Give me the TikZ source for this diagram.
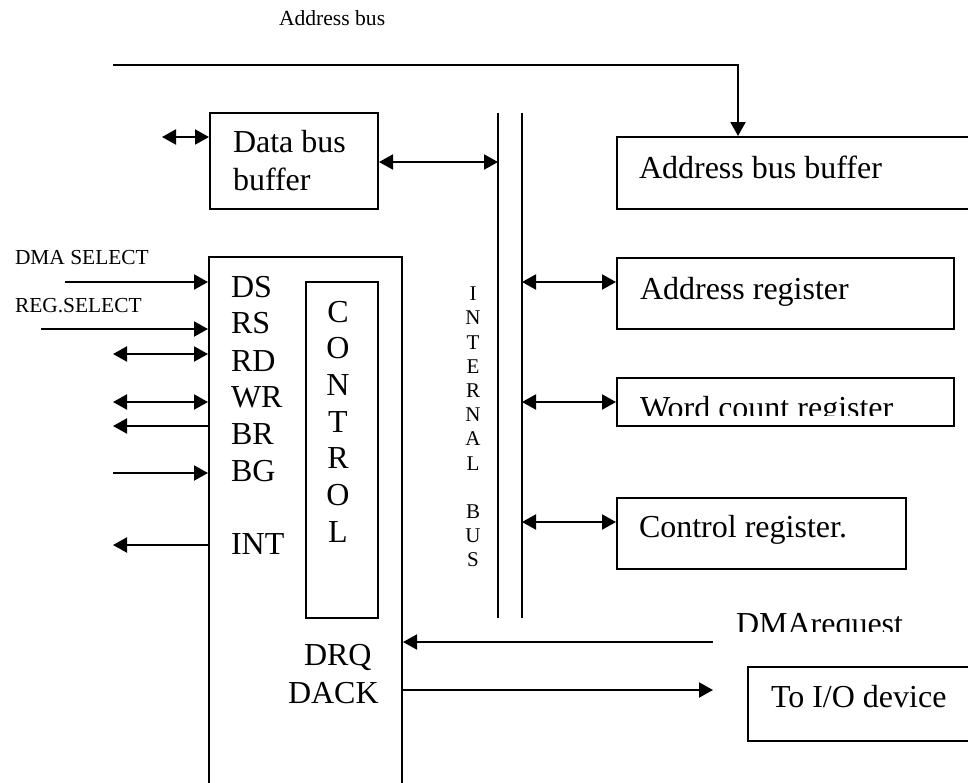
\documentclass[tikz,border=0pt]{standalone}
\usepackage{fontspec}
\setmainfont{Liberation Serif}
\usetikzlibrary{arrows.meta,fit}
\begin{document}
\begin{tikzpicture}[x=0.5pt,y=-0.5pt,line width=1pt,
  tipA/.tip={Triangle[length=7pt,width=7.5pt]},
  arr/.style={-tipA},
  dblarr/.style={tipA-tipA},
  boxed/.style={draw,inner sep=0pt,line width=1pt},
  big/.style={inner sep=0pt,anchor=base west,font=\fontsize{16}{19}\selectfont},
  bigr/.style={inner sep=0pt,anchor=base west,font=\fontsize{16}{19}\selectfont},
  small/.style={inner sep=0pt,anchor=base west,font=\fontsize{10.7}{13}\selectfont},
  letter/.style={inner sep=0pt,anchor=base,font=\fontsize{16}{19}\selectfont},
  sletter/.style={inner sep=0pt,anchor=base,font=\fontsize{10.5}{13}\selectfont}]
\useasboundingbox (0,0) rectangle (968,782);
\clip (0,0) rectangle (968,782);

% Address bus
\node[inner sep=0pt,anchor=base west,font=\fontsize{10.8}{13}\selectfont] (ablbl) at (278,25) {Address bus};
\node[boxed,fit={(617,137) (1010,209)}] (abb) {};
\node[bigr] (abbt) at (638,178) {Address bus buffer};
\coordinate (abstart) at (113,65);
\coordinate (abcorner) at (738,65);
\draw[arr] (abstart) -- (abcorner) -- (abcorner |- abb.north);

% Registers
\node[boxed,fit={(617,258) (954,329)}] (areg) {};
\node[bigr] (aregt) at (639,299) {Address register};
\node[boxed,fit={(617,378) (954,426)}] (wcr) {};
\begin{scope}
\clip (617,378) rectangle (954,415);
\node[bigr] (wcrt) at (639,418) {Word count register};
\end{scope}
\node[boxed,fit={(617,498) (906,569)}] (creg) {};
\node[bigr] (cregt) at (638,537) {Control register.};

% Internal bus
\coordinate (busL) at (498,113);
\coordinate (busLb) at (498,618);
\coordinate (busR) at (522,113);
\coordinate (busRb) at (522,618);
\draw (busL) -- (busLb);
\draw (busR) -- (busRb);
\foreach \ch [count=\i from 0] in {I,N,T,E,R,N,A,L,{},B,U,S}{
  \node[sletter] (ib\i) at (473,{300.7+24.2*\i}) {\ch};
}

\coordinate (ya) at (0,282);
\coordinate (yw) at (0,402);
\coordinate (yc) at (0,522);
\draw[dblarr] (busR |- ya) -- (areg.west |- ya);
\draw[dblarr] (busR |- yw) -- (wcr.west |- yw);
\draw[dblarr] (busR |- yc) -- (creg.west |- yc);

% Data bus buffer
\node[boxed,fit={(210,113) (378,209)}] (dbb) {};
\node[big] (dbbt1) at (232,152) {Data bus};
\node[big] (dbbt2) at (232,190) {buffer};
\coordinate (yd) at (0,162);
\draw[dblarr] (dbb.east |- yd) -- (busL |- yd);
\coordinate (dbin) at (162,137);
\draw[dblarr] (dbin) -- (dbb.west |- dbin);

% DMA controller block
\node[boxed,fit={(209,257) (402,820)}] (dma) {};
\node[boxed,fit={(306,282) (378,618)}] (ctrl) {};
\foreach \ch [count=\i from 0] in {C,O,N,T,R,O,L}{
  \node[letter] (cl\i) at (338,{322+36.67*\i}) {\ch};
}

% Pin labels
\node[big] (pds) at (230,297) {DS};
\node[big] (prs) at (230,333) {RS};
\node[big] (prd) at (230,371) {RD};
\node[big] (pwr) at (230,407) {WR};
\node[big] (pbr) at (230,444) {BR};
\node[big] (pbg) at (230,481) {BG};
\node[big] (pint) at (230,554) {INT};
\node[big] (pdrq) at (303,665) {DRQ};
\node[big] (pdack) at (287,703) {DACK};

\node[small] (dmasel) at (14,264) {DMA SELECT};
\node[small] (regsel) at (14,312) {REG.SELECT};

% Pin connectors
\coordinate (cds) at (65,282);
\coordinate (crs) at (41,329);
\coordinate (crd) at (113,354);
\coordinate (cwr) at (113,402);
\coordinate (cbr) at (113,426);
\coordinate (cbg) at (113,473);
\coordinate (cint) at (113,545);
\draw[arr] (cds) -- (dma.west |- cds);
\draw[arr] (crs) -- (dma.west |- crs);
\draw[dblarr] (crd) -- (dma.west |- crd);
\draw[dblarr] (cwr) -- (dma.west |- cwr);
\draw[arr] (dma.west |- cbr) -- (cbr);
\draw[arr] (cbg) -- (dma.west |- cbg);
\draw[arr] (dma.west |- cint) -- (cint);

% DMA request / DACK
\coordinate (creq) at (713,642);
\draw[arr] (creq) -- (dma.east |- creq);
\begin{scope}
\clip (730,600) rectangle (910,631);
\node[big] (dmareq) at (735,634) {DMArequest};
\end{scope}
\node[boxed,fit={(748,667) (1010,741)}] (iodev) {};
\node[big] (iodevt) at (770,707) {To I/O device};
\coordinate (cack) at (713,690);
\draw[arr] (dma.east |- cack) -- (cack);
\end{tikzpicture}
\end{document}
